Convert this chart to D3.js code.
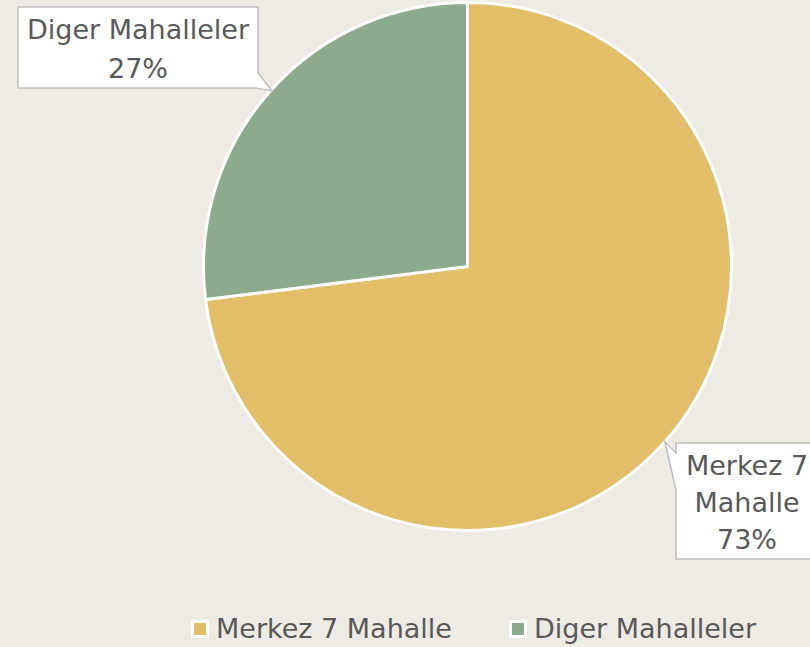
<!DOCTYPE html>
<html>
<head>
<meta charset="utf-8">
<script src="https://cdn.jsdelivr.net/npm/d3@7"></script>
<style>
  html, body { margin: 0; padding: 0; background: #EEEBE4; }
  svg { display: block; }
  text { font-family: "DejaVu Sans", sans-serif; fill: #595959; }
</style>
</head>
<body>
<svg id="chart" width="810" height="647"></svg>
<script>
// ---- data ----
const categories = ["Merkez 7 Mahalle", "Diger Mahalleler"];
const values = [73, 27];
const labelLines = [["Merkez 7", "Mahalle", "73%"], ["Diger Mahalleler", "27%"]];
const colors = ["#E3BE69", "#8CAA8C"];

// ---- layout ----
const W = 810, H = 647;
const cx = 467.5, cy = 266.5, R = 264;
const fontSize = 27;

const svg = d3.select("#chart");
svg.append("rect").attr("width", W).attr("height", H).attr("fill", "#EEEBE4");

const pie = d3.pie().sort(null).value(d => d);
const arcs = pie(values);
const arc = d3.arc().innerRadius(0).outerRadius(R);

const g = svg.append("g").attr("transform", `translate(${cx},${cy})`);
g.selectAll("path.slice")
  .data(arcs)
  .enter().append("path")
  .attr("class", "slice")
  .attr("d", arc)
  .attr("fill", (d, i) => colors[i])
  .attr("stroke", "#FFFFFF")
  .attr("stroke-width", 3)
  .attr("stroke-linejoin", "round");

// callout boxes (shape geometry per slice)
const callouts = [
  { path: "M676,443 H822 V559 H676 V490 L665,442 L676,453 Z", x: 747, y0: 474.5, dy: 37 },
  { path: "M18,7 H258 V73 L272,91 L256,88 H18 Z", x: 138, y0: 39, dy: 39 }
];

const lg = svg.append("g");
callouts.forEach((c, i) => {
  lg.append("path")
    .attr("d", c.path)
    .attr("fill", "#FFFFFF")
    .attr("stroke", "#BFBFBF")
    .attr("stroke-width", 1.5);
  const t = lg.append("text")
    .attr("text-anchor", "middle")
    .attr("font-size", fontSize);
  labelLines[i].forEach((line, j) => {
    t.append("tspan")
      .attr("x", c.x)
      .attr("y", c.y0 + j * c.dy)
      .text(line);
  });
});

// legend
const legendX = [191, 509];
const legend = svg.append("g");
categories.forEach((name, i) => {
  const x = legendX[i];
  legend.append("rect")
    .attr("x", x).attr("y", 620)
    .attr("width", 18).attr("height", 18)
    .attr("fill", "#FFFFFF");
  legend.append("rect")
    .attr("x", x + 3).attr("y", 623)
    .attr("width", 12).attr("height", 12)
    .attr("fill", colors[i]);
  legend.append("text")
    .attr("x", x + 25)
    .attr("y", 637.5)
    .attr("font-size", fontSize)
    .text(name);
});
</script>
</body>
</html>
